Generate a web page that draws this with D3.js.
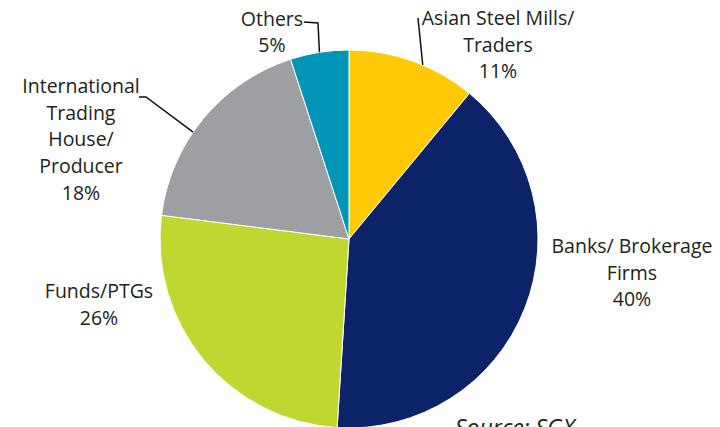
<!DOCTYPE html>
<html>
<head>
<meta charset="utf-8">
<script src="https://cdn.jsdelivr.net/npm/d3@7"></script>
<style>
  html, body { margin: 0; padding: 0; background: #fff; }
  svg { display: block; }
  text { font-family: "Open Sans", "Noto Sans", sans-serif; fill: #222; }
</style>
</head>
<body>
<svg id="chart" width="720" height="427"></svg>
<script>
// Share of participants by type (percent), clockwise from 12 o'clock
const categories = ["Asian Steel Mills/ Traders", "Banks/ Brokerage Firms", "Funds/PTGs", "International Trading House/ Producer", "Others"];
const shares = [11, 40, 26, 18, 5];
const colours = ["#FFCA05", "#0C2369", "#BFD730", "#9D9FA2", "#0095B6"];
// label text broken into lines
const labelLines = [
  ["Asian Steel Mills/", "Traders", "11%"],
  ["Banks/ Brokerage", "Firms", "40%"],
  ["Funds/PTGs", "26%"],
  ["International", "Trading", "House/", "Producer", "18%"],
  ["Others", "5%"]
];

const svg = d3.select("#chart");
const cx = 349, cy = 239, r = 189;

const pie = d3.pie().sort(null).value(d => d);
const arcs = pie(shares);
const arc = d3.arc().innerRadius(0).outerRadius(r);

const g = svg.append("g").attr("transform", `translate(${cx},${cy})`);
g.selectAll("path")
  .data(arcs)
  .join("path")
  .attr("d", arc)
  .attr("fill", (d, i) => colours[i])
  .attr("stroke", "#fff")
  .attr("stroke-width", 1);

// label placement (centre x, first baseline, line step)
const labelPos = [
  { x: 498, y: 25, step: 26.5 },
  { x: 632, y: 253, step: 26.5 },
  { x: 99, y: 298, step: 26.5 },
  { x: 81, y: 93, step: 26.7 },
  { x: 272, y: 26, step: 26 }
];

const fs = 19.5;
labelLines.forEach((lines, i) => {
  const p = labelPos[i];
  const t = svg.append("text")
    .attr("text-anchor", "middle")
    .attr("font-size", fs);
  lines.forEach((ln, j) => {
    t.append("tspan").attr("x", p.x).attr("y", p.y + j * p.step).text(ln);
  });
});

// leader lines from labels to slice edges
function edgePoint(i, frac) {
  const a = arcs[i].startAngle + (arcs[i].endAngle - arcs[i].startAngle) * frac;
  return [cx + r * Math.sin(a), cy - r * Math.cos(a)];
}
const leaders = [
  { pts: [[418, 18], edgePoint(0, 0.58)] },
  { pts: [[304, 22], [318, 23], edgePoint(4, 0.5)] },
  { pts: [[139, 97], [146, 97], edgePoint(3, 0.42)] }
];
const line = d3.line();
leaders.forEach(l => {
  svg.append("path")
    .attr("d", line(l.pts))
    .attr("fill", "none")
    .attr("stroke", "#111")
    .attr("stroke-width", 1.5);
});

svg.append("text")
  .attr("x", 455)
  .attr("y", 436)
  .attr("font-size", 23)
  .attr("font-style", "italic")
  .text("Source: SGX");
</script>
</body>
</html>
